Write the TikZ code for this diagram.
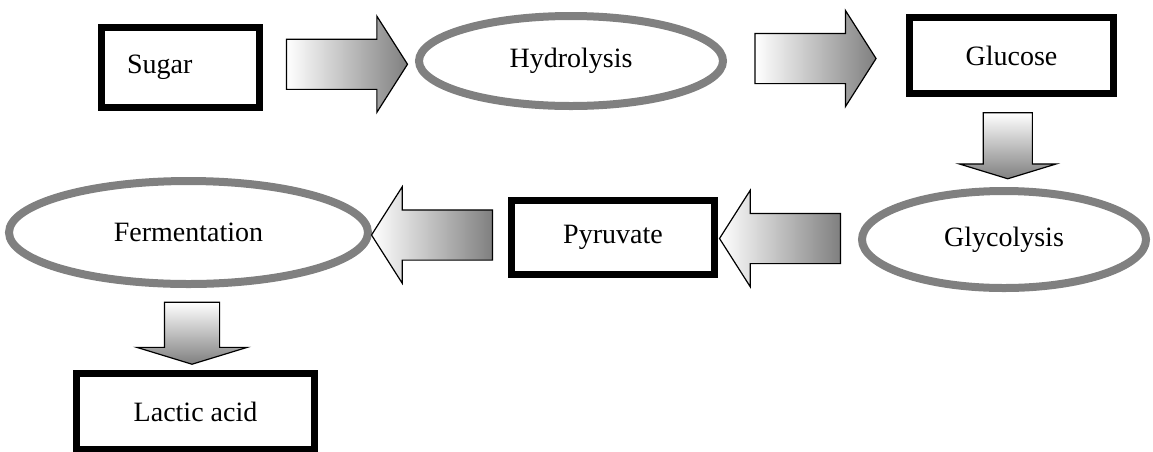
\documentclass[tikz,border=0pt]{standalone}
\usepackage{fontspec}
\setmainfont{Liberation Serif}
\usetikzlibrary{shapes,arrows,calc}

\begin{document}
\begin{tikzpicture}[x=1pt, y=-1pt,
  stepbox/.style={draw, line width=7pt, inner sep=0pt, font=\fontsize{28}{32}\selectfont},
  process/.style={ellipse, draw=black!50, line width=8pt, inner sep=0pt, font=\fontsize{28}{32}\selectfont},
  blockarrow/.style={single arrow, draw, line width=1.2pt, inner xsep=0pt, inner ysep=24.5pt, minimum height=121pt, single arrow head extend=23pt, single arrow tip angle=115, left color=white, right color=black!50},
  downarrow/.style={single arrow, draw, line width=1.2pt, inner xsep=0pt, rotate=-90, single arrow tip angle=146, top color=white, bottom color=black!50}]
\useasboundingbox (0,0) rectangle (1153,451);

\node[stepbox, minimum width=158pt, minimum height=80pt, text width=107pt, inner xsep=25.5pt, align=left] (sugar) at (180.5,67.5) {Sugar};
\node[process, minimum width=304pt, minimum height=90pt] (hydro) at (571,61) {Hydrolysis};
\node[stepbox, minimum width=204pt, minimum height=76pt] (glucose) at (1011.5,55.5) {Glucose};
\node[process, minimum width=284pt, minimum height=97pt] (glyco) at (1004,239.5) {Glycolysis};
\node[stepbox, minimum width=203pt, minimum height=74pt] (pyruvate) at (613,237.5) {Pyruvate};
\node[process, minimum width=359pt, minimum height=103pt] (ferment) at (188.5,232.5) {Fermentation};
\node[stepbox, minimum width=238pt, minimum height=76pt] (lactic) at (195.5,411.5) {Lactic acid};

\node[blockarrow] (a1) at ($(sugar.east)!0.5!(hydro.west)$) {};
\node[blockarrow] (a2) at ($(hydro.east)!0.45!(glucose.west)$) {};
\node[downarrow, minimum height=66pt, inner ysep=24pt, single arrow head extend=24pt] (a3) at ($(glucose.south)!0.5!(glyco.north)$) {};
\node[blockarrow, rotate=180] (a4) at ($(glyco.west)!0.5!(pyruvate.east)$) {};
\node[blockarrow, rotate=180] (a5) at ($(pyruvate.west)!0.5!(ferment.east)$) {};
\node[downarrow, minimum height=62pt, inner ysep=27pt, single arrow head extend=27.5pt] (a6) at ($(ferment.south)!0.5!(lactic.north)$) {};
\end{tikzpicture}
\end{document}
